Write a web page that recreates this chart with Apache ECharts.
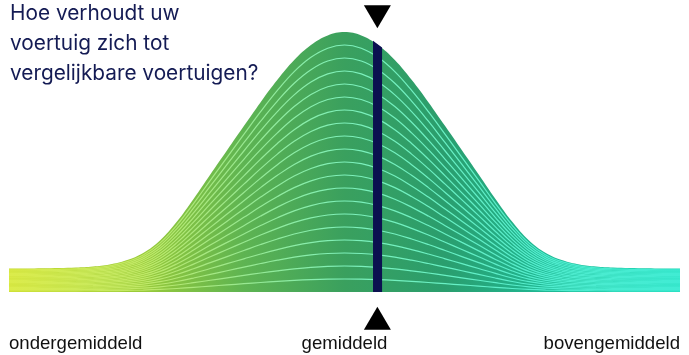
<!DOCTYPE html>
<html>
<head>
<meta charset="utf-8">
<script src="https://cdn.jsdelivr.net/npm/echarts@6/dist/echarts.min.js"></script>
<style>
html,body{margin:0;padding:0;background:#fff;}
#chart{width:689px;height:355px;}
</style>
</head>
<body>
<div id="chart"></div>
<script>
// ---- data ----
const positions = [0,2.5,5,7.5,10,12.5,15,17.5,20,22.5,25,27.5,30,32.5,35,37.5,40,42.5,45,47.5,50,
  52.5,55,57.5,60,62.5,65,67.5,70,72.5,75,77.5,80,82.5,85,87.5,90,92.5,95,97.5,100];
const heights = [9.0,9.0,9.1,9.2,9.4,9.8,10.6,12.2,15,19.8,27,35.8,45.2,54.5,63.8,73.0,81.6,89.2,95.0,98.7,100,
  98.7,95.0,89.2,81.6,73.0,63.8,54.5,45.2,35.8,27,19.8,15,12.2,10.6,9.8,9.4,9.2,9.1,9.0,9.0];
const bandCount = 20;
const markerValue = 54.9;
const markerBarX = [54.25, 55.6];
const markerBarTop = [96.6, 94.0];
const tickValues = [0, 50, 100];
const tickLabels = ['ondergemiddeld', 'gemiddeld', 'bovengemiddeld'];
const titleLines = ['Hoe verhoudt uw', 'voertuig zich tot', 'vergelijkbare voertuigen?'];

// ---- chart ----
const chart = echarts.init(document.getElementById('chart'), null, {renderer: 'canvas'});

const fillGrad = new echarts.graphic.LinearGradient(0, 0, 1, 0, [
  {offset: 0, color: '#c4d824'},
  {offset: 0.2, color: '#98ca3a'},
  {offset: 0.35, color: '#5eb452'},
  {offset: 0.5, color: '#3aa05e'},
  {offset: 0.65, color: '#2a9e6e'},
  {offset: 0.8, color: '#1fb894'},
  {offset: 1, color: '#16d6b4'}
]);
const lineGrad = new echarts.graphic.LinearGradient(0, 0, 1, 0, [
  {offset: 0, color: '#dcec4a'},
  {offset: 0.2, color: '#c0e866'},
  {offset: 0.35, color: '#98e890'},
  {offset: 0.5, color: '#7ef0ba'},
  {offset: 0.65, color: '#68f0c4'},
  {offset: 0.8, color: '#50ecce'},
  {offset: 1, color: '#40ecd4'}
]);

const curve = positions.map((p, i) => [p, heights[i]]);
const series = [];
series.push({
  type: 'line', data: curve, smooth: 0.4, symbol: 'none', silent: true,
  lineStyle: {width: 0}, areaStyle: {color: fillGrad, opacity: 1}, z: 1
});
for (let k = 1; k < bandCount; k++) {
  series.push({
    type: 'line', symbol: 'none', smooth: 0.4, silent: true,
    data: positions.map((p, i) => [p, heights[i] * k / bandCount]),
    lineStyle: {width: 1.2, color: lineGrad}, z: 2
  });
}
series.push({
  type: 'line', symbol: 'none', silent: true,
  data: markerBarX.map((x, i) => [x, markerBarTop[i]]),
  lineStyle: {width: 0}, areaStyle: {color: '#0b1150', opacity: 1}, z: 3
});
series.push({
  type: 'scatter', silent: true, clip: false, z: 4,
  symbol: 'triangle', symbolSize: [27, 23],
  data: [
    {value: [markerValue, 105.9], symbolRotate: 180},
    {value: [markerValue, -10.1]}
  ],
  itemStyle: {color: '#000', opacity: 1}
});

chart.setOption({
  animation: false,
  title: {
    text: titleLines.join('\n'), left: 10, top: -1, padding: 0,
    textStyle: {fontFamily: 'Inter', fontSize: 20.8, fontWeight: 'normal', color: '#141b54', lineHeight: 30}
  },
  grid: {left: 9, right: 9, top: 32, bottom: 63},
  xAxis: {
    type: 'value', min: 0, max: 100, interval: 50,
    axisLine: {show: false}, axisTick: {show: false}, splitLine: {show: false},
    axisLabel: {
      margin: 42, fontSize: 18.6, fontFamily: 'Liberation Sans', color: '#111',
      alignMinLabel: 'left', alignMaxLabel: 'right',
      formatter: v => tickLabels[tickValues.indexOf(v)] || ''
    }
  },
  yAxis: {type: 'value', min: 0, max: 100, show: false},
  series: series
});
</script>
</body>
</html>
